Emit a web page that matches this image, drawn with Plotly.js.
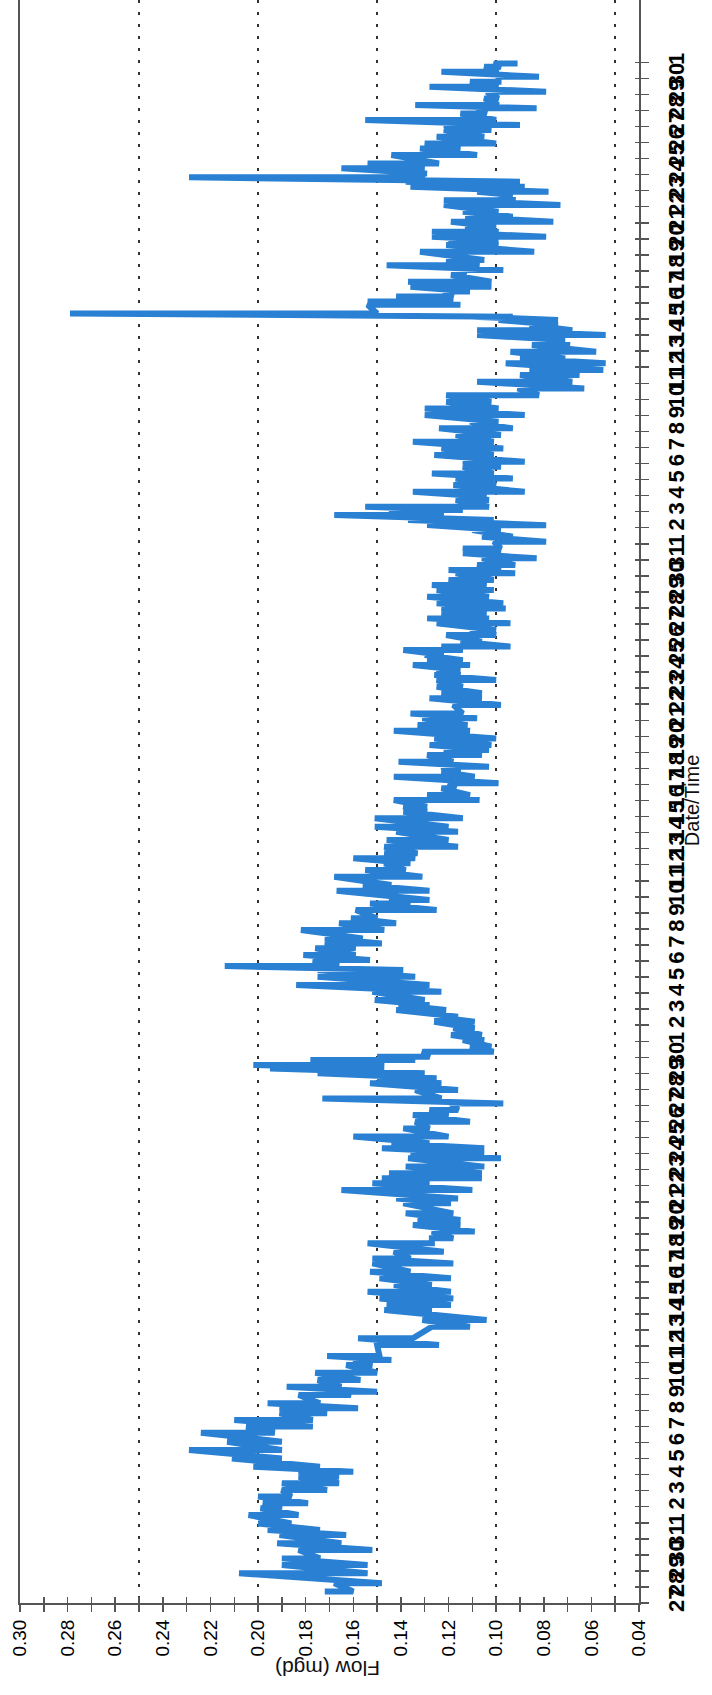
<!DOCTYPE html>
<html>
<head>
<meta charset="utf-8">
<script src="https://cdn.plot.ly/plotly-3.0.1.min.js"></script>
<style>
html,body{margin:0;padding:0;background:#fff;}
#chart{width:712px;height:1695px;}
</style>
</head>
<body>
<div id="chart"></div>
<script>
// Start of the record (day 0 of the time axis)
const startYear = 2019, startMonth = 2, startDay = 27;   // 27 March
const axisSpanDays = 99.88;
const labelledDays = 97;   // ticks 27 ... 1 (one per day)

// Flow readings: for each sampled moment (days after start) the high and low flow swing (mgd)
const strokeDay = [
0.71,1.23,1.85,2.37,2.78,3.30,3.72,4.24,4.55,4.96,5.48,5.90,6.21,6.63,7.04,7.46,7.87,8.18,8.49,9.01,
9.53,10.05,10.61,10.99,11.40,11.82,12.13,12.44,12.96,13.17,13.48,13.89,14.35,14.83,15.14,15.39,16.07,16.49,17.22,17.63,
18.26,18.57,18.98,19.40,19.81,20.23,20.64,21.16,21.47,21.89,22.41,22.72,23.14,23.55,23.86,24.28,24.90,25.21,25.73,26.15,
26.46,26.77,27.19,27.71,28.02,28.33,28.64,29.06,29.57,29.99,30.41,30.72,31.13,31.44,31.96,32.38,32.69,33.00,33.31,33.52,
33.83,34.04,34.35,34.66,35.08,35.39,35.81,36.22,36.53,36.95,37.26,37.57,38.09,38.50,39.02,39.44,39.69,40.06,40.37,40.79,
41.10,41.41,41.93,42.35,42.66,43.18,43.59,43.80,44.38,44.74,45.25,45.67,46.09,46.40,46.71,47.12,47.54,48.06,48.37,48.89,
49.30,49.62,50.03,50.34,50.76,51.07,51.48,51.80,52.11,52.42,52.83,53.15,53.46,53.87,54.35,54.70,55.12,55.43,55.95,56.37,
56.68,57.09,57.51,57.82,58.13,58.44,58.75,59.07,59.38,59.59,59.90,60.31,60.62,61.04,61.35,61.66,61.97,62.29,62.70,63.12,
63.43,63.74,64.16,64.36,64.67,65.09,65.40,65.71,66.13,66.44,66.85,67.16,67.48,67.79,68.10,68.31,68.72,68.93,69.24,69.66,
70.07,70.38,70.80,71.11,71.53,71.94,72.36,72.77,73.19,73.60,74.02,74.43,74.85,75.26,75.68,76.10,76.51,76.82,77.24,77.55,
77.96,78.38,78.69,79.00,79.31,79.63,79.94,80.15,80.35,80.89,81.10,81.41,81.72,82.02,82.33,82.74,83.05,83.36,83.68,84.20,
84.61,84.92,85.13,85.44,85.75,86.06,86.38,86.69,87.10,87.41,87.73,87.93,88.25,88.56,88.83,89.07,89.39,89.70,90.22,90.63,
90.94,91.36,91.78,92.09,92.40,92.81,93.13,93.33,93.75,94.16,94.48,94.79,95.10,95.41,95.72,95.93
];
const strokeHigh = [
0.172,0.168,0.208,0.190,0.190,0.183,0.192,0.191,0.196,0.200,0.204,0.199,0.198,0.200,0.190,0.190,0.183,0.183,0.202,0.211,
0.229,0.213,0.224,0.205,0.210,0.191,0.191,0.196,0.183,0.165,0.188,0.175,0.176,0.163,0.160,0.171,0.150,0.158,0.127,0.131,
0.147,0.146,0.149,0.154,0.143,0.149,0.153,0.152,0.152,0.143,0.154,0.127,0.127,0.135,0.133,0.138,0.139,0.142,0.165,0.152,
0.148,0.145,0.138,0.137,0.136,0.148,0.144,0.160,0.139,0.134,0.135,0.128,0.119,0.173,0.134,0.153,0.150,0.175,0.195,0.202,
0.178,0.150,0.131,0.111,0.114,0.119,0.118,0.126,0.126,0.142,0.141,0.151,0.152,0.184,0.175,0.175,0.214,0.177,0.181,0.176,
0.172,0.172,0.182,0.166,0.161,0.159,0.153,0.145,0.167,0.156,0.168,0.155,0.147,0.160,0.147,0.147,0.146,0.142,0.151,0.151,
0.139,0.139,0.143,0.129,0.123,0.120,0.143,0.123,0.123,0.141,0.129,0.122,0.128,0.126,0.143,0.133,0.131,0.136,0.118,0.128,
0.123,0.125,0.125,0.126,0.125,0.135,0.129,0.130,0.139,0.123,0.115,0.121,0.111,0.125,0.129,0.123,0.123,0.125,0.129,0.125,
0.127,0.120,0.117,0.120,0.108,0.106,0.114,0.114,0.101,0.106,0.110,0.129,0.137,0.168,0.145,0.155,0.117,0.114,0.135,0.118,
0.117,0.127,0.114,0.114,0.126,0.123,0.135,0.117,0.124,0.111,0.130,0.130,0.121,0.121,0.091,0.108,0.090,0.086,0.096,0.090,
0.094,0.085,0.083,0.108,0.108,0.086,0.099,0.110,0.279,0.154,0.154,0.142,0.122,0.136,0.137,0.119,0.115,0.146,0.121,0.132,
0.121,0.120,0.127,0.127,0.113,0.119,0.113,0.114,0.122,0.122,0.099,0.108,0.136,0.138,0.229,0.136,0.165,0.154,0.144,0.132,
0.130,0.125,0.122,0.122,0.155,0.115,0.108,0.134,0.105,0.104,0.128,0.111,0.099,0.123,0.105,0.101
];
const strokeLow = [
0.160,0.148,0.154,0.154,0.174,0.152,0.165,0.163,0.174,0.186,0.183,0.190,0.179,0.186,0.171,0.166,0.166,0.160,0.174,0.190,
0.190,0.190,0.193,0.177,0.177,0.171,0.158,0.174,0.161,0.150,0.165,0.157,0.150,0.152,0.144,0.149,0.124,0.135,0.111,0.104,
0.127,0.119,0.118,0.119,0.127,0.119,0.136,0.118,0.136,0.122,0.127,0.118,0.109,0.115,0.115,0.118,0.119,0.116,0.110,0.128,
0.106,0.106,0.105,0.098,0.105,0.105,0.128,0.120,0.128,0.111,0.120,0.116,0.097,0.123,0.116,0.123,0.125,0.130,0.147,0.147,
0.134,0.128,0.101,0.102,0.105,0.106,0.109,0.109,0.116,0.121,0.128,0.130,0.123,0.128,0.134,0.139,0.166,0.153,0.159,0.159,
0.148,0.156,0.147,0.142,0.150,0.125,0.136,0.128,0.128,0.144,0.131,0.138,0.136,0.134,0.133,0.116,0.120,0.116,0.120,0.114,
0.129,0.129,0.107,0.111,0.117,0.099,0.109,0.115,0.103,0.118,0.106,0.103,0.102,0.100,0.111,0.112,0.108,0.114,0.098,0.106,
0.106,0.114,0.100,0.115,0.115,0.111,0.114,0.122,0.114,0.094,0.106,0.100,0.100,0.094,0.103,0.104,0.096,0.097,0.103,0.101,
0.104,0.101,0.092,0.098,0.092,0.083,0.098,0.098,0.079,0.093,0.098,0.079,0.101,0.122,0.114,0.103,0.103,0.104,0.088,0.100,
0.093,0.101,0.098,0.088,0.101,0.097,0.101,0.098,0.093,0.099,0.088,0.099,0.102,0.082,0.063,0.068,0.065,0.055,0.054,0.071,
0.058,0.069,0.071,0.054,0.068,0.074,0.074,0.093,0.150,0.115,0.118,0.118,0.111,0.102,0.102,0.113,0.097,0.107,0.105,0.084,
0.099,0.099,0.079,0.099,0.100,0.076,0.093,0.099,0.073,0.092,0.093,0.078,0.088,0.090,0.130,0.129,0.130,0.124,0.108,0.115,
0.100,0.105,0.102,0.090,0.100,0.104,0.083,0.099,0.099,0.079,0.099,0.099,0.082,0.099,0.098,0.091
];

const flowAxisTitle = 'Flow (mgd)';
const timeAxisTitle = 'Date/Time';
const lineColor = '#2a80d2';

const base = Date.UTC(startYear, startMonth, startDay);
function dayToStr(d) {
  const t = new Date(base + d * 86400000);
  return t.toISOString().slice(0, 19).replace('T', ' ');
}

const xs = [], ys = [];
strokeDay.forEach(function (d, i) {
  xs.push(strokeHigh[i]); ys.push(dayToStr(d));
  xs.push(strokeLow[i]); ys.push(dayToStr(d));
});

const dayTicks = [];
for (let k = 0; k < labelledDays; k++) dayTicks.push(dayToStr(k));

const yRange = [dayToStr(0), dayToStr(axisSpanDays)];
const xRange = [0.30, 0.04];
const axisGray = '#555';

const traces = [
  {type: 'scatter', mode: 'lines', x: xs, y: ys, xaxis: 'x', yaxis: 'y',
   line: {color: lineColor, width: 6}, hoverinfo: 'skip', showlegend: false},
  {type: 'scatter', mode: 'lines', x: [], y: [], xaxis: 'x2', yaxis: 'y', showlegend: false},
  {type: 'scatter', mode: 'lines', x: [], y: [], xaxis: 'x3', yaxis: 'y', showlegend: false},
  {type: 'scatter', mode: 'lines', x: [], y: [], xaxis: 'x', yaxis: 'y2', showlegend: false}
];

const layout = {
  width: 712, height: 1695,
  margin: {l: 20, r: 73, t: 0, b: 92},
  paper_bgcolor: '#ffffff', plot_bgcolor: '#ffffff',
  showlegend: false, hovermode: false,
  font: {family: 'Liberation Sans, Arial, sans-serif', color: '#111'},
  xaxis: {
    range: xRange, dtick: 0.02, tick0: 0.04, tickformat: '.2f', tickangle: -90,
    ticks: 'outside', ticklen: 7, tickwidth: 1.5, tickcolor: axisGray,
    minor: {dtick: 0.01, ticks: 'outside', ticklen: 7, tickwidth: 1.5, tickcolor: axisGray, showgrid: false},
    showgrid: false, zeroline: false, showline: true, linecolor: axisGray, linewidth: 2,
    tickfont: {size: 19, color: '#000'}, anchor: 'y'
  },
  xaxis2: {
    overlaying: 'x', anchor: 'y', range: xRange, dtick: 0.01, tick0: 0,
    ticks: 'inside', ticklen: 6, tickwidth: 1.5, tickcolor: axisGray,
    showticklabels: false, showgrid: false, zeroline: false, showline: false
  },
  xaxis3: {
    overlaying: 'x', anchor: 'y', range: xRange, dtick: 0.05, tick0: 0,
    ticks: '', showticklabels: false, showgrid: true, griddash: '3px,9px',
    gridcolor: '#333', gridwidth: 2.5, zeroline: false, showline: false
  },
  yaxis: {
    type: 'date', side: 'right', range: yRange, tickmode: 'array', tickvals: dayTicks,
    tickformat: '%-d', tickangle: -90,
    ticks: 'outside', ticklen: 8, tickwidth: 1.5, tickcolor: axisGray,
    showline: true, mirror: true, linecolor: axisGray, linewidth: 2,
    showgrid: false, zeroline: false, tickfont: {size: 22, color: '#000', weight: 'bold'},
    ticklabelstandoff: 9, anchor: 'x'
  },
  yaxis2: {
    type: 'date', overlaying: 'y', side: 'right', anchor: 'x', range: yRange,
    tickmode: 'array', tickvals: dayTicks, ticks: 'inside', ticklen: 4, tickwidth: 1.5,
    tickcolor: axisGray, showticklabels: false, showgrid: false, zeroline: false, showline: false
  },
  annotations: [
    {text: flowAxisTitle, xref: 'paper', yref: 'paper', x: 0.4976, y: -0.0405,
     textangle: 180, showarrow: false, xanchor: 'center', yanchor: 'middle',
     font: {size: 21, color: '#111'}},
    {text: timeAxisTitle, xref: 'paper', yref: 'paper', x: 1.086, y: 0.501,
     textangle: -90, showarrow: false, xanchor: 'center', yanchor: 'middle',
     font: {size: 20, color: '#111'}}
  ]
};

Plotly.newPlot('chart', traces, layout, {displayModeBar: false, staticPlot: true});
</script>
</body>
</html>
